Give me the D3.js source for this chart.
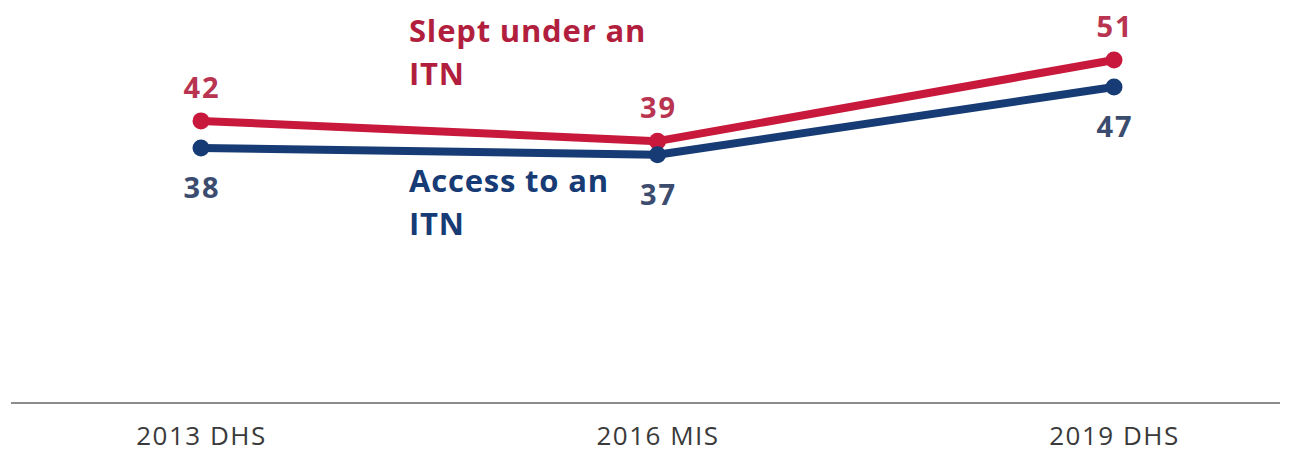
<!DOCTYPE html>
<html>
<head>
<meta charset="utf-8">
<script src="https://cdn.jsdelivr.net/npm/d3@7"></script>
<style>
  html, body { margin: 0; padding: 0; background: #fff; }
  svg { display: block; }
</style>
</head>
<body>
<svg id="drawing_region"></svg>
<script>
const surveys = ['2013 DHS', '2016 MIS', '2019 DHS'];
const slept = [42, 39, 51];
const access = [38, 37, 47];

const config = {
    width: 1295,
    height: 454,
};

const svg = d3.select('#drawing_region')
    .attr('width', config.width)
    .attr('height', config.height);

// scales
const xscale = d3.scalePoint()
    .domain(surveys)
    .range([201, 1114]);

const yscale = d3.scaleLinear()
    .domain([0, 51])
    .range([405, 60]);

// x axis: baseline + category labels
const xaxis = d3.axisBottom(xscale)
    .tickSize(0)
    .tickPadding(42);

const xaxis_group = svg.append('g')
    .attr('transform', 'translate(0, 403)')
    .call(xaxis);

xaxis_group.select('.domain').remove();
xaxis_group.append('line')
    .attr('x1', 11).attr('x2', 1280)
    .attr('stroke', '#8c8c8c')
    .attr('stroke-width', 2);

xaxis_group.selectAll('.tick text')
    .attr('font-family', 'Open Sans, sans-serif')
    .attr('font-size', 26)
    .attr('letter-spacing', 1.5)
    .attr('fill', '#3a3a3a')
    .attr('dy', 0);

const series = [
    { name: 'slept', values: slept, color: '#c8193c', label: '#b83451', dy: -23 },
    { name: 'access', values: access, color: '#173b74', label: '#3b4c6e', dy: 50 },
];

const line = d3.line()
    .x((d, i) => xscale(surveys[i]))
    .y(d => yscale(d));

series.forEach(s => {
    svg.append('path')
        .attr('d', line(s.values))
        .attr('fill', 'none')
        .attr('stroke', s.color)
        .attr('stroke-width', 8)
        .attr('stroke-linejoin', 'round');

    svg.selectAll('.dot-' + s.name)
        .data(s.values)
        .enter()
        .append('circle')
        .attr('cx', (d, i) => xscale(surveys[i]))
        .attr('cy', d => yscale(d))
        .attr('r', 8.5)
        .attr('fill', s.color);

    svg.selectAll('.lab-' + s.name)
        .data(s.values)
        .enter()
        .append('text')
        .attr('x', (d, i) => xscale(surveys[i]) + 1)
        .attr('y', d => yscale(d) + s.dy)
        .attr('text-anchor', 'middle')
        .attr('font-family', 'Open Sans, sans-serif')
        .attr('font-weight', 'bold')
        .attr('font-size', 29)
        .attr('letter-spacing', 2)
        .attr('fill', s.label)
        .text(d => d);
});

// series names
const names = [
    { lines: ['Slept under an', 'ITN'], color: '#b21f3e', y: 42 },
    { lines: ['Access to an', 'ITN'], color: '#173b74', y: 192 },
];

names.forEach(n => {
    const t = svg.append('text')
        .attr('font-family', 'Open Sans, sans-serif')
        .attr('font-weight', 'bold')
        .attr('font-size', 31)
        .attr('letter-spacing', 0.8)
        .attr('fill', n.color);
    n.lines.forEach((l, i) => {
        t.append('tspan')
            .attr('x', 409)
            .attr('y', n.y + i * 43)
            .text(l);
    });
});
</script>
</body>
</html>
